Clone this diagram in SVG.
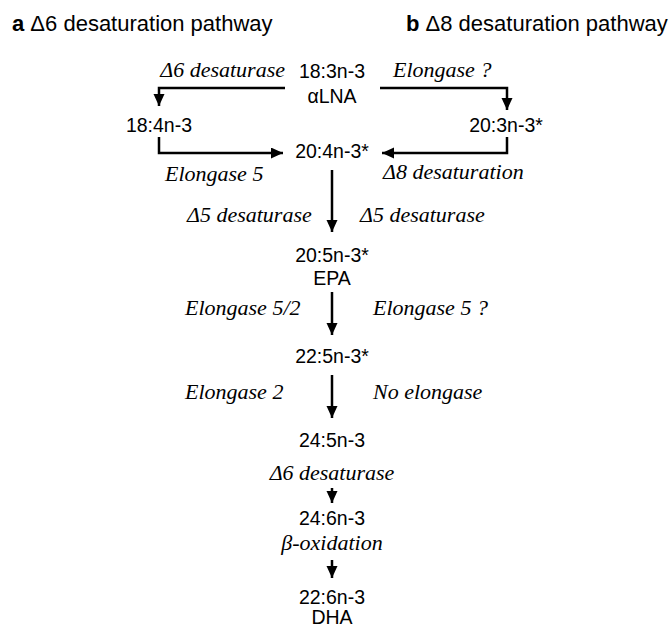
<svg xmlns="http://www.w3.org/2000/svg" width="672" height="627" viewBox="0 0 672 627">
<style>
.t{font-family:"Liberation Sans",Arial,sans-serif;font-size:22px;fill:#000}
.n{font-family:"Liberation Sans",Arial,sans-serif;font-size:19.5px;fill:#000;text-anchor:middle}
.e{font-family:"Liberation Serif","Times New Roman",serif;font-style:italic;font-size:22px;fill:#000}
.c{fill:none;stroke:#000;stroke-width:2.5}
</style>
<defs>
<marker id="ah" markerUnits="userSpaceOnUse" markerWidth="13" markerHeight="12" refX="12" refY="5.5" orient="auto">
<path d="M0,0 L12,5.5 L0,11 z" fill="#000"/>
</marker>
</defs>
<g id="titles">
<text class="t" x="12" y="31"><tspan font-weight="bold">a</tspan> Δ6 desaturation pathway</text>
<text class="t" x="406" y="31"><tspan font-weight="bold">b</tspan> Δ8 desaturation pathway</text>
</g>
<g id="connectors">
<polyline class="c" points="285,88 159,88 159,106" marker-end="url(#ah)"/>
<polyline class="c" points="380,88 507,88 507,110" marker-end="url(#ah)"/>
<polyline class="c" points="159,137 159,153 283,153" marker-end="url(#ah)"/>
<polyline class="c" points="507,137 507,153 382,153" marker-end="url(#ah)"/>
<line class="c" x1="332" y1="170" x2="332" y2="232" marker-end="url(#ah)"/>
<line class="c" x1="332" y1="292" x2="332" y2="335" marker-end="url(#ah)"/>
<line class="c" x1="332" y1="375" x2="332" y2="418" marker-end="url(#ah)"/>
<line class="c" x1="332" y1="488" x2="332" y2="503" marker-end="url(#ah)"/>
<line class="c" x1="332" y1="560" x2="332" y2="578" marker-end="url(#ah)"/>
</g>
<g id="labels">
<text class="e" x="285" y="77" text-anchor="end">Δ6 desaturase</text>
<text class="e" x="393" y="77">Elongase ?</text>
<text class="e" x="165" y="181">Elongase 5</text>
<text class="e" x="383" y="179">Δ8 desaturation</text>
<text class="e" x="187" y="222">Δ5 desaturase</text>
<text class="e" x="360" y="222">Δ5 desaturase</text>
<text class="e" x="185" y="315">Elongase 5/2</text>
<text class="e" x="373" y="315">Elongase 5 ?</text>
<text class="e" x="185" y="399">Elongase 2</text>
<text class="e" x="373" y="399">No elongase</text>
<text class="e" x="332" y="480" text-anchor="middle">Δ6 desaturase</text>
<text class="e" x="332" y="550" text-anchor="middle">β-oxidation</text>
</g>
<g id="n-18-3"><text class="n" x="332" y="78">18:3n-3</text><text class="n" x="332" y="103">αLNA</text></g>
<g id="n-18-4"><text class="n" x="159" y="132">18:4n-3</text></g>
<g id="n-20-3"><text class="n" x="506" y="132">20:3n-3*</text></g>
<g id="n-20-4"><text class="n" x="332" y="158">20:4n-3*</text></g>
<g id="n-20-5"><text class="n" x="332" y="262">20:5n-3*</text><text class="n" x="332" y="285">EPA</text></g>
<g id="n-22-5"><text class="n" x="332" y="363">22:5n-3*</text></g>
<g id="n-24-5"><text class="n" x="332" y="447">24:5n-3</text></g>
<g id="n-24-6"><text class="n" x="332" y="525">24:6n-3</text></g>
<g id="n-22-6"><text class="n" x="332" y="604">22:6n-3</text><text class="n" x="332" y="624">DHA</text></g>
</svg>
